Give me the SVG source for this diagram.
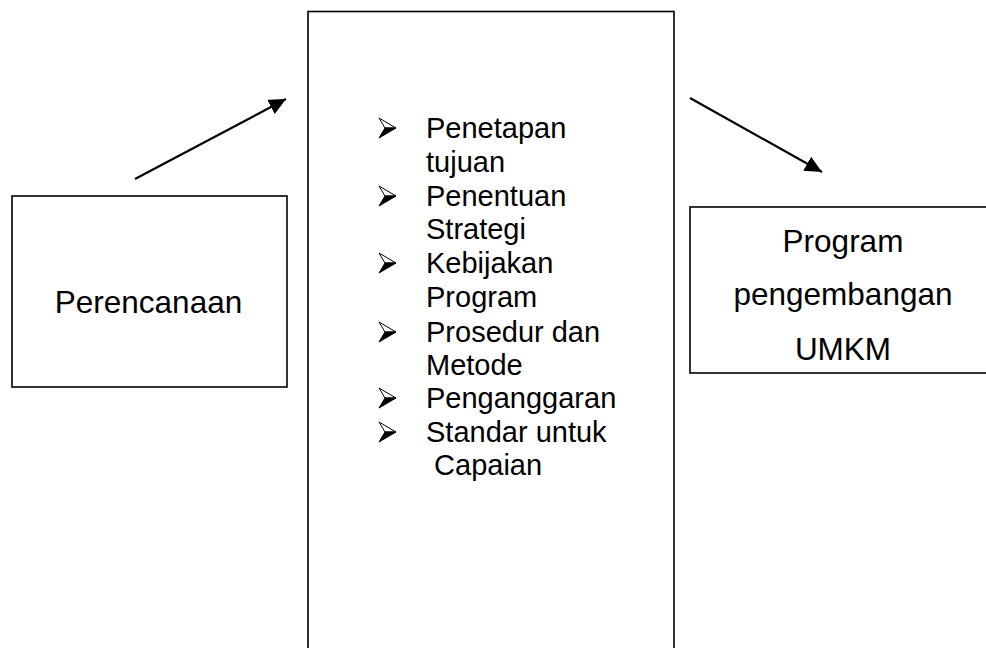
<svg xmlns="http://www.w3.org/2000/svg" width="986" height="648" viewBox="0 0 986 648">
<style>
.box{fill:#fff;stroke:#000;stroke-width:1.6}
.t{font-family:"Liberation Sans",Arial,sans-serif;fill:#000}
.big{font-size:31.5px}
.li{font-size:29px}
.conn{stroke:#000;stroke-width:2.2;fill:none}
</style>
<defs>
<marker id="ah" markerUnits="userSpaceOnUse" markerWidth="20" markerHeight="18" refX="17" refY="8" orient="auto">
<path d="M0,0 L17,8 L0,16 z" fill="#000"/>
</marker>
<g id="bul">
<path d="M0,-20 L17,-10 L6,-10 z" fill="#fff" stroke="#000" stroke-width="1"/>
<path d="M6,-10 L17,-10 L0,0 z" fill="#000" stroke="#000" stroke-width="1" stroke-linejoin="round"/>
</g>
</defs>
<rect width="986" height="648" fill="#fff"/>
<g id="perencanaan">
<rect class="box" x="12" y="196" width="275" height="191"/>
<text class="t big" x="148.5" y="313" text-anchor="middle">Perencanaan</text>
</g>
<g id="kegiatan">
<rect class="box" x="308" y="11.5" width="366" height="700"/>
<use href="#bul" x="379" y="138"/>
<use href="#bul" x="379" y="206"/>
<use href="#bul" x="379" y="273"/>
<use href="#bul" x="379" y="342"/>
<use href="#bul" x="379" y="408"/>
<use href="#bul" x="379" y="442"/>
<g class="t li">
<text x="426" y="138">Penetapan</text>
<text x="426" y="172">tujuan</text>
<text x="426" y="206">Penentuan</text>
<text x="426" y="239">Strategi</text>
<text x="426" y="273">Kebijakan</text>
<text x="426" y="307">Program</text>
<text x="426" y="342">Prosedur dan</text>
<text x="426" y="375">Metode</text>
<text x="426" y="408">Penganggaran</text>
<text x="426" y="442">Standar untuk</text>
<text x="426" y="475" xml:space="preserve"> Capaian</text>
</g>
</g>
<g id="program">
<rect class="box" x="690" y="207" width="320" height="166"/>
<text class="t big" x="843" y="252" text-anchor="middle">Program</text>
<text class="t big" x="843" y="305" text-anchor="middle">pengembangan</text>
<text class="t big" x="843" y="360" text-anchor="middle">UMKM</text>
</g>
<g id="connectors">
<line class="conn" x1="135" y1="179" x2="286" y2="99" marker-end="url(#ah)"/>
<line class="conn" x1="690" y1="98" x2="822" y2="172" marker-end="url(#ah)"/>
</g>
</svg>
